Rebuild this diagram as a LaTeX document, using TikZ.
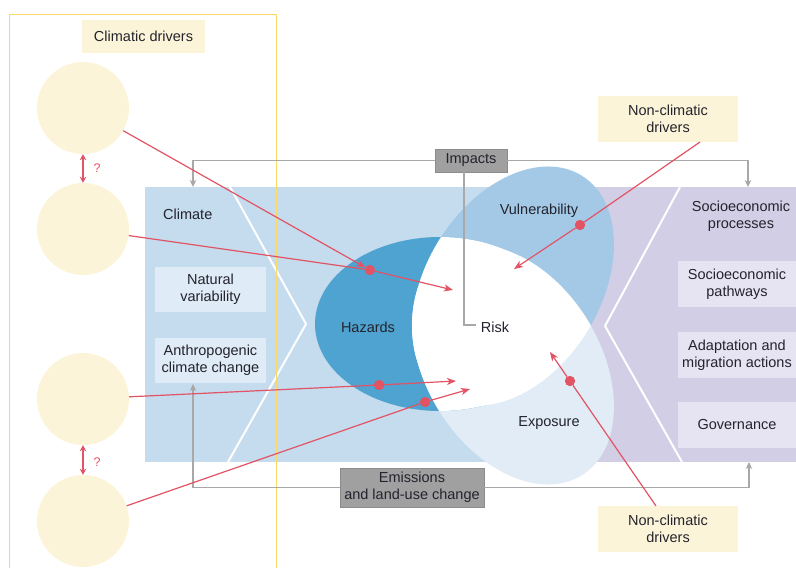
\documentclass[tikz,border=0pt]{standalone}
\usepackage{fontspec}
\setmainfont{Liberation Sans}
\usetikzlibrary{arrows.meta,calc}
\definecolor{bgblue}{RGB}{197,220,238}
\definecolor{bgpurple}{RGB}{210,206,230}
\definecolor{hazblue}{RGB}{79,163,209}
\definecolor{vulblue}{RGB}{163,201,230}
\definecolor{expblue}{RGB}{225,236,246}
\definecolor{climbox}{RGB}{223,235,246}
\definecolor{sociobox}{RGB}{230,228,242}
\definecolor{cream}{RGB}{252,244,216}
\definecolor{gold}{RGB}{248,218,100}
\definecolor{boxgray}{RGB}{160,160,160}
\definecolor{boxedge}{RGB}{140,140,140}
\definecolor{linegray}{RGB}{168,168,168}
\definecolor{redline}{RGB}{226,83,100}
\definecolor{txt}{RGB}{35,35,45}
\begin{document}
\begin{tikzpicture}[x=1pt,y=-1pt,
  font=\fontsize{14.5}{17}\selectfont, text=txt,
  plain/.style={align=center, inner sep=0pt},
  climbx/.style={fill=climbox, minimum width=111pt, minimum height=45pt, align=center, inner sep=0pt},
  socbx/.style={fill=sociobox, minimum width=118pt, minimum height=46pt, align=center, inner sep=0pt},
  creambx/.style={fill=cream, minimum width=140pt, minimum height=46pt, align=center, inner sep=0pt},
  graybx/.style={fill=boxgray, draw=boxedge, line width=0.6pt, align=center, inner sep=0pt},
  driver/.style={circle, fill=cream, minimum size=92pt, inner sep=0pt},
  reddot/.style={circle, fill=redline, minimum size=10pt, inner sep=0pt},
  redl/.style={draw=redline, line width=1.2pt},
  redarrow/.style={redl, -{Stealth[length=9pt,width=7pt,inset=2.5pt]}},
  dblarrow/.style={draw=redline, line width=2pt, {Stealth[length=6pt,width=6.5pt]}-{Stealth[length=6pt,width=6.5pt]}},
  grayl/.style={draw=linegray, line width=1.5pt},
  grayarrow/.style={grayl, -{Stealth[length=7pt,width=6.5pt,inset=2pt]}},
  chev/.style={draw=white, line width=2pt},
  vulshape/.style={rotate around={58:(513,286)}},
  expshape/.style={rotate around={-58:(513,365)}}
]
\useasboundingbox (0,0) rectangle (796,568);

% background panels
\fill[bgblue] (145,187) rectangle (560,462);
\fill[bgpurple] (560,187) rectangle (796,462);
\draw[chev] (230,187) -- (306,324) -- (228,462);
\draw[chev] (680,187) -- (605,326) -- (682,462);

% ellipses
\fill[vulblue, vulshape] (513,286) ellipse [x radius=130pt, y radius=87pt];
\fill[expblue, expshape] (513,365) ellipse [x radius=130pt, y radius=87pt];
\fill[hazblue] (440,324) ellipse [x radius=125pt, y radius=87pt];
\begin{scope}
  \clip (440,324) ellipse [x radius=125pt, y radius=87pt];
  \fill[white, vulshape] (513,286) ellipse [x radius=130pt, y radius=87pt];
  \fill[white, expshape] (513,365) ellipse [x radius=130pt, y radius=87pt];
\end{scope}
\begin{scope}
  \clip[vulshape] (513,286) ellipse [x radius=130pt, y radius=87pt];
  \fill[white, expshape] (513,365) ellipse [x radius=130pt, y radius=87pt];
\end{scope}

% climatic drivers frame
\draw[gold, line width=1pt] (9,568) -- (9,14) -- (276,14) -- (276,568);
\node[fill=cream, minimum width=123pt, minimum height=33pt, inner sep=0pt] (cdrv) at (143.5,36.5) {Climatic drivers};

\node[driver] (c1) at (83,108) {};
\node[driver] (c2) at (83,229) {};
\node[driver] (c3) at (83,399) {};
\node[driver] (c4) at (83,521) {};
\draw[dblarrow] (c1.south) -- (c2.north);
\draw[dblarrow] (c3.south) -- (c4.north);
\node[text=redline, font=\fontsize{12.5}{14}\selectfont, plain] (q1) at (97,168) {?};
\node[text=redline, font=\fontsize{12.5}{14}\selectfont, plain] (q2) at (97,462) {?};

% climate panel
\node[plain, anchor=west] (climate) at (163,214) {Climate};
\node[climbx] (natvar) at (210.5,289.5) {Natural\\variability};
\node[climbx] (anthro) at (210.5,360.5) {Anthropogenic\\climate change};

% socioeconomic panel
\node[plain] (socproc) at (741,216) {Socioeconomic\\processes};
\node[socbx] (socpath) at (737,284) {Socioeconomic\\pathways};
\node[socbx] (adapt) at (737,355) {Adaptation and\\migration actions};
\node[socbx] (gov) at (737,425) {Governance};

% ellipse labels
\node[plain] (haz) at (368,327) {Hazards};
\node[plain] (vul) at (539,211) {Vulnerability};
\node[plain] (expo) at (549,423) {Exposure};
\node[plain] (risk) at (495,327) {Risk};

% gray connectors
\node[graybx, minimum width=72pt, minimum height=23pt] (impacts) at (471,160.5) {Impacts};
\node[graybx, minimum width=144pt, minimum height=39pt] (emis) at (412,487.5) {Emissions\\and land-use change};
\coordinate (climtop) at (193,187);
\coordinate (soctop) at (748,187);
\coordinate (anthbot) at (193,384);
\coordinate (socbot) at (749,462);
\coordinate (riskcorner) at (464,325);
\coordinate (riskend) at (476,325);
\draw[grayarrow] (impacts.west) -| (climtop);
\draw[grayarrow] (impacts.east) -| (soctop);
\draw[grayl] (impacts.south -| riskcorner) -- (riskcorner) -- (riskend);
\draw[grayarrow] (emis.west) -| (anthbot);
\draw[grayarrow] (emis.east) -| (socbot);

% non-climatic drivers
\node[creambx] (nc1) at (668,119) {Non-climatic\\drivers};
\node[creambx] (nc2) at (668,529) {Non-climatic\\drivers};

% red connectors
\node[reddot] (dot1) at (370,270) {};
\node[reddot] (dot2) at (379,385) {};
\node[reddot] (dot3) at (425,402) {};
\node[reddot] (dot4) at (580,225) {};
\node[reddot] (dot5) at (570,381) {};
\coordinate (t1) at (453,290);
\coordinate (t2) at (456,381);
\coordinate (t3) at (470,389);
\coordinate (t4) at (514,269);
\coordinate (t5) at (550,352);
\coordinate (s4) at (700,142);
\coordinate (s5) at (656,506);
\draw[redarrow] (c1) -- (dot1);
\draw[redl] (c2) -- (dot1);
\draw[redarrow] (dot1) -- (t1);
\draw[redl] (c3) -- (dot2);
\draw[redarrow] (dot2) -- (t2);
\draw[redl] (c4) -- (dot3);
\draw[redarrow] (dot3) -- (t3);
\draw[redl] (s4) -- (dot4);
\draw[redarrow] (dot4) -- (t4);
\draw[redl] (s5) -- (dot5);
\draw[redarrow] (dot5) -- (t5);
\foreach \d in {dot1,dot2,dot3,dot4,dot5} \fill[redline] (\d) circle (5pt);
\end{tikzpicture}
\end{document}
